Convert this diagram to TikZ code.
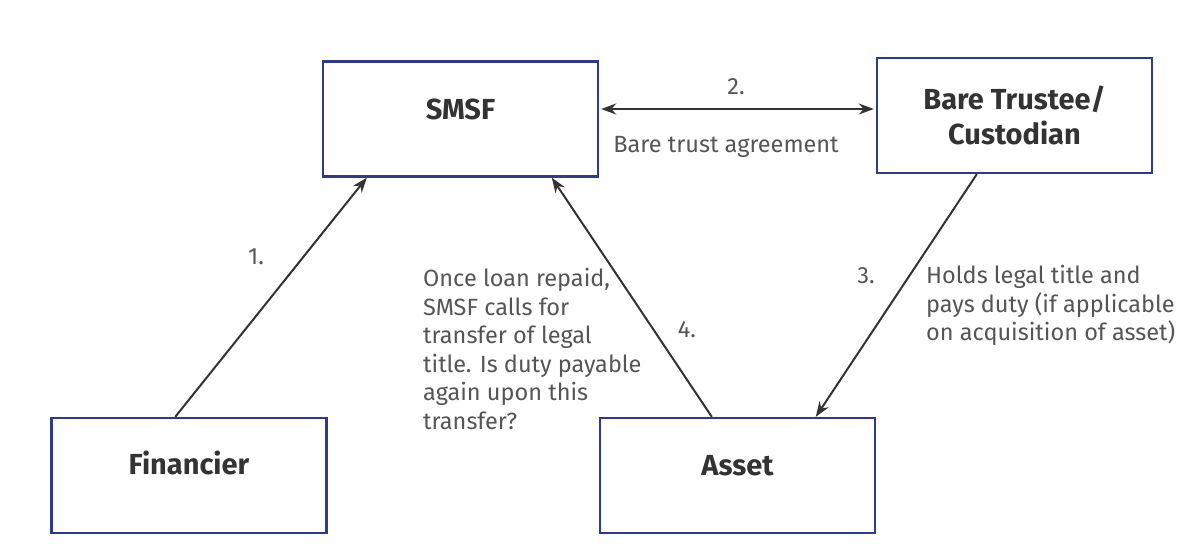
\documentclass[tikz,border=0pt]{standalone}
\usepackage{fontspec}
\setmainfont{Fira Sans}
\usetikzlibrary{arrows.meta,calc}
\definecolor{boxblue}{HTML}{2E3A8C}
\definecolor{txtgray}{HTML}{555555}
\definecolor{boldgray}{HTML}{333333}
\definecolor{arrgray}{HTML}{333333}
\tikzset{
  entity/.style={draw=boxblue, line width=2.4pt, fill=white, minimum width=275pt, minimum height=115pt, inner sep=0pt, font=\fontsize{29}{33}\selectfont\bfseries, text=boldgray, align=center},
  note/.style={font=\fontsize{23.5}{28.5}\selectfont, text=txtgray, inner sep=0pt},
  conn/.style={draw=arrgray, line width=2pt, -{Stealth[length=15pt,width=11pt]}},
}
\begin{document}
\begin{tikzpicture}[x=1pt,y=-1pt]
\useasboundingbox (0,0) rectangle (1202,559);
\fill[white] (0,0) rectangle (1202,559);
\node[entity] (smsf) at (460.5,119) {\raisebox{20pt}{SMSF}};
\node[entity] (bare) at (1014.5,115.5) {\raisebox{-15pt}{\shortstack{Bare Trustee/\\[5pt]Custodian}}};
\node[entity] (fin) at (189,475.5) {\raisebox{26pt}{Financier}};
\node[entity] (asset) at (737.5,475.5) {\raisebox{20pt}{Asset}};
% arrows
\draw[conn] ($(fin.north west)+(125,0)$) -- ($(smsf.south west)+(45,0)$);
\draw[conn] ($(asset.north west)+(113,0)$) -- ($(smsf.south west)+(230,0)$);
\draw[conn] ($(bare.south west)+(101,0)$) -- ($(asset.north west)+(217,0)$);
\draw[conn, {Stealth[length=15pt,width=11pt]}-{Stealth[length=15pt,width=11pt]}] ($(smsf.east)+(2,-10)$) -- ($(bare.west)+(-2,-6.5)$);
% labels
\node[note] (l2) at (736,87) {2.};
\node[note] (lbta) at (726,147) {Bare trust agreement};
\node[note] (l1) at (256,257) {1.};
\node[note] (l4) at (687,330) {4.};
\node[note] (l3) at (866,276) {3.};
\node[note, anchor=north west, align=left] (holds) at (926,265) {Holds legal title and\\pays duty (if applicable\\on acquisition of asset)};
\node[note, anchor=north west, align=left] (once) at (423,268) {Once loan repaid,\\SMSF calls for\\transfer of legal\\title. Is duty payable\\again upon this\\transfer?};
\end{tikzpicture}
\end{document}
